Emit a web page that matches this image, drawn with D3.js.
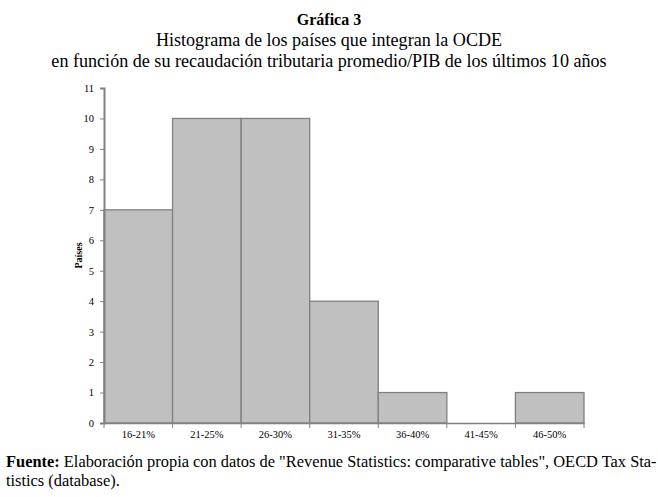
<!DOCTYPE html>
<html>
<head>
<meta charset="utf-8">
<script src="https://cdn.jsdelivr.net/npm/d3@7"></script>
<style>
  body { margin: 0; background: #fff; }
  text { font-family: "Liberation Serif", "DejaVu Serif", serif; }
</style>
</head>
<body>
<script>
// histogram data
var bins = ['16-21%', '21-25%', '26-30%', '31-35%', '36-40%', '41-45%', '46-50%'];
var counts = [7, 10, 10, 4, 1, 0, 1];
var yTicks = [0, 1, 2, 3, 4, 5, 6, 7, 8, 9, 10, 11];

var titleLines = ['Histograma de los países que integran la OCDE',
    'en función de su recaudación tributaria promedio/PIB de los últimos 10 años'];

var W = 658, H = 497;
var margin = { top: 88, left: 104, right: 74, bottom: 74 };
var width = W - margin.left - margin.right,
    height = H - margin.top - margin.bottom;

var svg = d3.select('body').append('svg')
    .attr('width', W)
    .attr('height', H);

// titles
svg.append('text')
    .attr('x', 329).attr('y', 25)
    .attr('text-anchor', 'middle')
    .attr('font-size', 16).attr('font-weight', 'bold')
    .text('Gráfica 3');

titleLines.forEach(function (t, i) {
    svg.append('text')
        .attr('x', 329).attr('y', 46 + i * 20.5)
        .attr('text-anchor', 'middle')
        .attr('font-size', 18.1)
        .text(t);
});

var g = svg.append('g')
    .attr('transform', 'translate(' + margin.left + ',' + margin.top + ')');

var x = d3.scaleBand().domain(bins).range([0, width]).padding(0);
var y = d3.scaleLinear().domain([0, 11]).range([height, 0]);

// bars
g.selectAll('.bar')
    .data(counts)
    .enter()
    .append('rect')
    .attr('x', function (d, i) { return x(bins[i]); })
    .attr('y', function (d) { return y(d); })
    .attr('width', x.bandwidth())
    .attr('height', function (d) { return height - y(d); })
    .attr('fill', '#c0c0c0')
    .attr('stroke', '#808080')
    .attr('stroke-width', 1.3);

// y axis
var yAxis = g.append('g')
    .call(d3.axisLeft(y).tickValues(yTicks).tickSize(4).tickPadding(6));
yAxis.selectAll('text').attr('font-size', 10.5).attr('fill', '#000')
    .style('font-family', '"Liberation Serif", serif');
yAxis.select('.domain').attr('stroke', '#808080').attr('stroke-width', 2);
yAxis.selectAll('.tick line').attr('stroke', '#808080');

// x axis - ticks on bin boundaries
var xAxis = g.append('g')
    .attr('transform', 'translate(0,' + height + ')')
    .call(d3.axisBottom(x).tickSize(0).tickPadding(8));
xAxis.selectAll('text').attr('font-size', 10.5).attr('fill', '#000')
    .style('font-family', '"Liberation Serif", serif');
xAxis.select('.domain').attr('stroke', '#808080').attr('stroke-width', 1.3);

var edges = bins.map(function (b) { return x(b); }).concat([width]);
xAxis.selectAll('.edge')
    .data(edges)
    .enter()
    .append('line')
    .attr('x1', function (d) { return d; })
    .attr('x2', function (d) { return d; })
    .attr('y1', 0).attr('y2', 5)
    .attr('stroke', '#808080');

// y label
svg.append('text')
    .attr('transform', 'translate(82,' + (margin.top + height / 2) + ') rotate(-90)')
    .attr('text-anchor', 'middle')
    .attr('font-size', 10).attr('font-weight', 'bold')
    .text('Países');

// source note
var src = svg.append('text')
    .attr('x', 6).attr('y', 467)
    .attr('font-size', 16.4);
src.append('tspan').attr('font-weight', 'bold').text('Fuente:');
src.append('tspan').text(' Elaboración propia con datos de "Revenue Statistics: comparative tables", OECD Tax Sta-');

svg.append('text')
    .attr('x', 6).attr('y', 486)
    .attr('font-size', 16.4)
    .text('tistics (database).');
</script>
</body>
</html>
